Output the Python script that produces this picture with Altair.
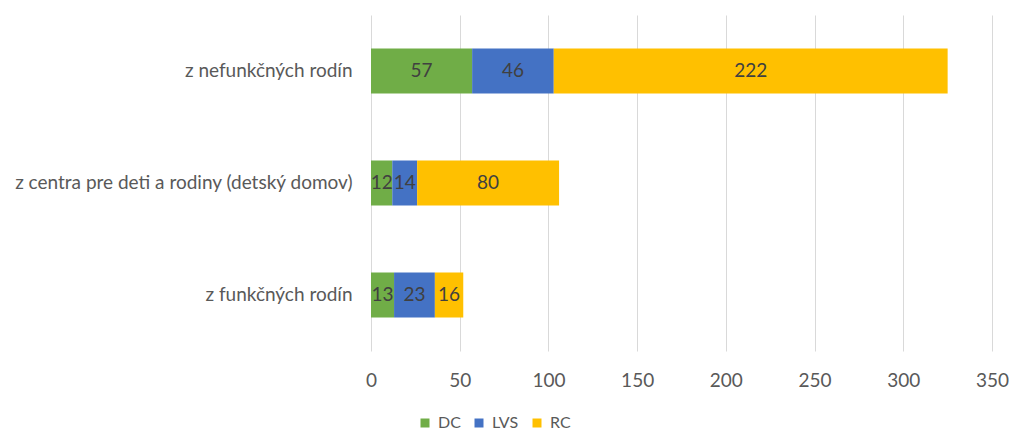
import altair as alt
import pandas as pd

categories = ["z nefunkčných rodín", "z centra pre deti a rodiny (detský domov)", "z funkčných rodín"]
series = ["DC", "LVS", "RC"]
dc = [57, 12, 13]
lvs = [46, 14, 23]
rc = [222, 80, 16]
colors = ["#70AD47", "#4472C4", "#FFC000"]

rows = []
for i, c in enumerate(categories):
    for j, (s, v) in enumerate(zip(series, [dc[i], lvs[i], rc[i]])):
        rows.append({"cat": c, "series": s, "value": v, "order": j})
df = pd.DataFrame(rows)

font = "Lato"
fs = 19

base = alt.Chart(df).encode(
    y=alt.Y("cat:N", sort=categories, title=None,
            scale=alt.Scale(paddingInner=0.6, paddingOuter=0.3),
            axis=alt.Axis(labelFontSize=fs, labelColor="#595959", labelFont=font,
                          ticks=False, domain=False, labelPadding=19,
                          minExtent=363, maxExtent=363, labelLimit=400)),
)

bars = base.mark_bar().encode(
    x=alt.X("value:Q", stack="zero", title=None,
            scale=alt.Scale(domain=[0, 350], nice=False),
            axis=alt.Axis(values=[0, 50, 100, 150, 200, 250, 300, 350],
                          labelFontSize=fs, labelColor="#595959", labelFont=font,
                          labelFlush=False,
                          ticks=False, domain=False, labelPadding=20,
                          gridColor="#D9D9D9", gridWidth=1)),
    color=alt.Color("series:N", sort=series,
                    scale=alt.Scale(domain=series, range=colors),
                    legend=alt.Legend(title=None, orient="none", legendX=46, legendY=400,
                                      direction="horizontal", symbolType="square",
                                      symbolSize=81, labelFontSize=16, labelColor="#595959",
                                      labelFont=font, columnPadding=10, labelOffset=5,
                                      symbolStrokeWidth=0)),
    order=alt.Order("order:Q"),
)

labels = base.mark_text(fontSize=fs, color="#404040", font=font).encode(
    x=alt.X("mid:Q"),
    text=alt.Text("value:Q"),
).transform_stack(
    stack="value", groupby=["cat"], sort=[alt.SortField("order")], as_=["v0", "v1"]
).transform_calculate(mid="(datum.v0 + datum.v1) / 2")

chart = (bars + labels).properties(
    width=621, height=336,
    padding={"left": 0, "top": 7, "right": 0, "bottom": 0},
).configure_view(stroke=None)

chart.save("out.html", embed_options={"renderer": "svg", "actions": False})
